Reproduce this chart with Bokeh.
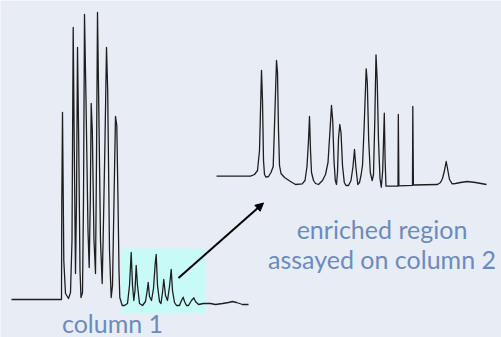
from bokeh.plotting import figure
from bokeh.models import Range1d, Arrow, NormalHead, ColumnDataSource
from bokeh.core.properties import value
from bokeh.embed import file_html
from bokeh.resources import INLINE

# Column 1 chromatogram trace (pixel-like units, y grows downward)
trace1_x = [11, 61, 61.3, 62, 63.3, 65, 68, 70, 71.5, 72.7, 73.8, 75, 76, 77, 78.2, 79.5, 80.5, 82, 83, 84, 85.5, 87.5, 88.7, 89.8, 90.7, 91.8, 93.5, 95, 96, 97, 98.2, 100, 101.7, 103, 104.5, 106, 107.2, 109, 110.7, 112, 113.5, 115, 116.3, 117.5, 118.5, 119.3, 121.7,
            124, 127, 129, 130.7, 132, 133.3, 134.5, 135.7, 137, 139, 142, 145, 146.7, 147.7, 149, 151, 153, 154.8, 155.7, 157, 159, 160.5, 162, 163.3, 165, 167, 169, 170.7, 172, 174, 176, 179, 181, 182.7, 184, 186, 188, 191, 193.3, 195, 198,
            203, 210, 215, 222, 228, 232, 236, 242, 248]
trace1_y = [299, 299, 200, 112, 260, 293, 298, 292, 240, 27, 150, 273, 200, 47, 140, 270, 297, 292, 200, 14, 100, 230, 267, 200, 103, 130, 240, 273, 160, 12, 100, 240, 283, 220, 140, 47, 90, 250, 297, 285, 200, 116, 125, 200, 270, 297, 305,
            305, 303, 285, 252, 285, 300, 290, 265, 285, 303, 305, 301, 290, 282, 296, 300, 288, 262, 254, 285, 301, 303, 292, 279, 295, 300, 286, 269, 290, 302, 305, 305, 300, 296.7, 301, 305, 305, 300, 297.3, 301, 304,
            303, 303, 304, 303, 302, 301, 302, 304, 304]

# Column 2 chromatogram trace
trace2_x = [216, 250, 254, 257, 259, 261, 262, 263, 264, 265.5, 268, 270.5, 272.7, 274, 276, 277, 278, 279, 280.5, 284, 290, 295, 301.7, 304.5, 306.5, 308, 309, 310, 311, 313, 315, 318, 322, 325, 327.5, 329.5, 331, 332.2, 333.5, 334.8, 336, 337, 338, 339.3, 340.5, 342, 343.8, 345.5, 348, 350.5, 352.5, 354, 355.3, 357.3, 359, 360.5, 362, 363.5, 365.7, 366.8, 368.2, 369.8, 371.7, 373, 374.3, 375.5, 376.7, 378, 379.5, 380.8, 382.2, 383.8, 384.6, 385.5,
            397.5, 397.8, 398.4, 412, 412.3, 412.9, 437, 440, 442, 444, 445.7, 447, 449, 451.7, 455, 460, 466.7, 475, 486]
trace2_y = [175.7, 175.7, 174, 170, 150, 70, 100, 160, 174, 176.7, 176, 172, 166, 125, 60, 72, 130, 165, 173, 177, 181, 184, 183.3, 180, 166, 140, 116, 150, 172, 180, 183, 184, 180, 174, 162, 130, 105, 120, 160, 180, 184, 172, 138, 124, 132, 165, 182, 185, 185, 180, 166, 149, 166, 184, 182, 175, 165, 130, 68.3, 82, 140, 172, 180, 174, 120, 54.3, 80, 140, 178, 186.7, 170, 112.7, 160, 185.7,
            185.5, 114, 185.3, 184.8, 106, 184.5, 184, 182, 178, 170, 161, 168, 179, 183.3, 183, 182, 181, 182, 184]

# Highlighted (enriched) region on column 1
highlight_left, highlight_right = 121.5, 205
highlight_top, highlight_bottom = 248, 313

# Arrow from enriched region to column 2 chromatogram
arrow_start = (178, 277.5)
arrow_end = (263, 202.5)

# Labels
label_texts = ["column 1", "enriched region", "assayed on column 2"]
label_x = [112, 381.5, 381.5]
label_y = [322, 228, 258.5]

W, H = 501, 337
p = figure(width=W, height=H, output_backend="svg", toolbar_location=None,
           x_range=Range1d(0, W), y_range=Range1d(H, 0),
           min_border=0, min_border_left=0, min_border_right=0,
           min_border_top=0, min_border_bottom=0)
p.axis.visible = False
p.grid.visible = False
p.outline_line_color = None
p.background_fill_color = "#e8edf5"
p.border_fill_color = "#e8edf5"

p.quad(left=[highlight_left], right=[highlight_right], top=[highlight_top], bottom=[highlight_bottom],
       fill_color="#c8fbf8", line_color=None)

p.line(trace1_x, trace1_y, line_color="#1e1e1e", line_width=1.3, line_join="round")
p.line(trace2_x, trace2_y, line_color="#1e1e1e", line_width=1.3, line_join="round")

p.add_layout(Arrow(end=NormalHead(size=8, fill_color="black", line_color="black"),
                   x_start=arrow_start[0], y_start=arrow_start[1],
                   x_end=arrow_end[0], y_end=arrow_end[1],
                   line_color="black", line_width=2))

src = ColumnDataSource(dict(x=label_x, y=label_y, t=label_texts))
p.text(x="x", y="y", text="t", source=src, text_align="center", text_baseline="alphabetic",
       text_font=value("Lato"), text_font_size="25px", text_color="#6b8bbf")

open("out.html", "w").write(file_html(p, INLINE))
